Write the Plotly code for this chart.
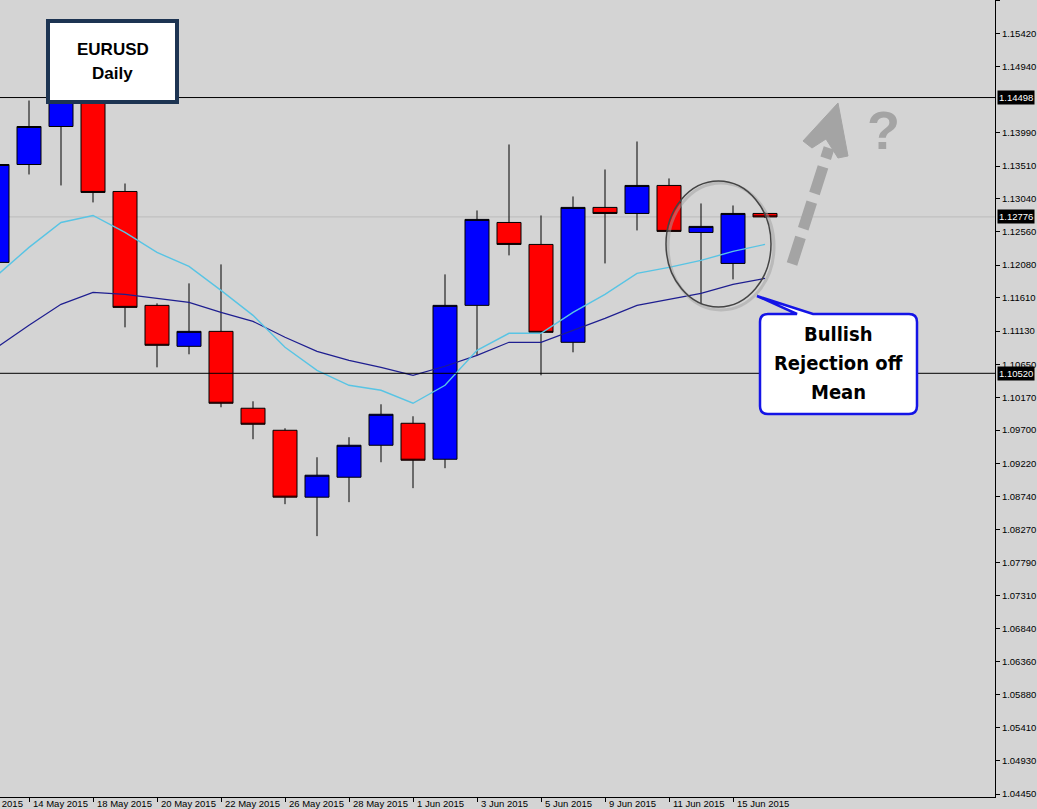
import plotly.graph_objects as go

# ---------------- data ----------------
dates = ["13 May", "14 May", "15 May", "18 May", "19 May", "20 May", "21 May", "22 May",
         "25 May", "26 May", "27 May", "28 May", "29 May", "1 Jun", "2 Jun", "3 Jun",
         "4 Jun", "5 Jun", "8 Jun", "9 Jun", "10 Jun", "11 Jun", "12 Jun", "15 Jun", "16 Jun"]
opens = [1.12120, 1.13532, 1.14080, 1.14512, 1.13143, 1.11500, 1.10909, 1.11125, 1.10016,
         1.09698, 1.08733, 1.09021, 1.09482, 1.09799, 1.09280, 1.11500, 1.12696, 1.12379,
         1.10967, 1.12913, 1.12826, 1.13230, 1.12552, 1.12105, 1.12826]
highs = [1.13619, 1.14455, 1.14671, 1.14671, 1.13258, 1.11529, 1.11817, 1.12091, 1.10116,
         1.09727, 1.09309, 1.09598, 1.10073, 1.09900, 1.11947, 1.12869, 1.13821, 1.12797,
         1.13071, 1.13460, 1.13864, 1.13331, 1.12970, 1.12941, 1.12840]
lows = [1.12033, 1.13388, 1.13230, 1.12985, 1.11183, 1.10606, 1.10794, 1.10030, 1.09569,
        1.08632, 1.08171, 1.08661, 1.09237, 1.08863, 1.09151, 1.10779, 1.12221, 1.10491,
        1.10823, 1.12105, 1.12581, 1.12567, 1.11515, 1.11875, 1.12760]
closes = [1.13532, 1.14080, 1.14527, 1.13129, 1.11471, 1.10924, 1.11125, 1.10088, 1.09785,
          1.08733, 1.09050, 1.09482, 1.09929, 1.09266, 1.11500, 1.12740, 1.12379, 1.11111,
          1.12913, 1.12826, 1.13230, 1.12567, 1.12639, 1.12826, 1.12776]
ma_fast = [1.11932, 1.12336, 1.12696, 1.12797, 1.12552, 1.12264, 1.12062, 1.11716, 1.11356,
           1.10895, 1.10563, 1.10347, 1.10275, 1.10088, 1.10347, 1.10852, 1.11097, 1.11097,
           1.11399, 1.11659, 1.11961, 1.12048, 1.12149, 1.12278, 1.12379]
ma_slow = [1.10895, 1.11212, 1.11515, 1.11687, 1.11659, 1.11601, 1.11543, 1.11399, 1.11269,
           1.11039, 1.10837, 1.10707, 1.10606, 1.10491, 1.10621, 1.10779, 1.10967, 1.10967,
           1.11140, 1.11313, 1.11500, 1.11587, 1.11673, 1.11803, 1.11889]

x_tick_idx = [1, 3, 5, 7, 9, 11, 13, 15, 17, 19, 21, 23]
x_tick_text = ["14 May 2015", "18 May 2015", "20 May 2015", "22 May 2015", "26 May 2015",
               "28 May 2015", "1 Jun 2015", "3 Jun 2015", "5 Jun 2015", "9 Jun 2015",
               "11 Jun 2015", "15 Jun 2015"]
cut_label = "12 May 2015"
y_ticks = [1.15900, 1.15420, 1.14940, 1.13990, 1.13510, 1.13040, 1.12560, 1.12080, 1.11610,
           1.11130, 1.10650, 1.10170, 1.09700, 1.09220, 1.08740, 1.08270, 1.07790, 1.07310,
           1.06840, 1.06360, 1.05880, 1.05410, 1.04930, 1.04450]
level_lines = [1.14498, 1.10520]
bid_price = 1.12776
title_lines = ["EURUSD", "Daily"]
callout_lines = ["Bullish", "Rejection off", "Mean"]

# ---------------- layout helpers ----------------
W, H = 1037, 809
ML, MR, MT, MB = 0, 42, 0, 12
PW, PH = W - ML - MR, H - MT - MB
BG = "#d4d4d4"
FONT = "Liberation Sans, Arial, sans-serif"


def px(x):
    return x / PW


def py(y):
    return 1 - y / PH


def path(points, close=True):
    s = ""
    for cmd, x, y in points:
        s += f"{cmd} {px(x):.5f},{py(y):.5f} "
    return s + ("Z" if close else "")


idx = list(range(len(dates)))

fig = go.Figure()
fig.add_trace(go.Candlestick(
    x=idx, open=opens, high=highs, low=lows, close=closes,
    increasing=dict(fillcolor="#0000ff", line=dict(color="black", width=1)),
    decreasing=dict(fillcolor="#ff0000", line=dict(color="black", width=1)),
    whiskerwidth=0, showlegend=False, hoverinfo="skip"))
fig.add_trace(go.Scatter(x=idx, y=ma_slow, mode="lines",
                         line=dict(color="#1e1e90", width=1.2), showlegend=False, hoverinfo="skip"))
fig.add_trace(go.Scatter(x=idx, y=ma_fast, mode="lines",
                         line=dict(color="#58c4e4", width=1.4), showlegend=False, hoverinfo="skip"))

shapes = []
shapes.append(dict(type="line", xref="paper", x0=0, x1=1, yref="y", y0=bid_price, y1=bid_price,
                   line=dict(color="#bcbcbc", width=1), layer="below"))
for lv in level_lines:
    shapes.append(dict(type="line", xref="paper", x0=0, x1=1, yref="y", y0=lv, y1=lv,
                       line=dict(color="black", width=1), layer="above"))
# title box
shapes.append(dict(type="rect", xref="paper", yref="paper", x0=px(48), x1=px(177), y0=py(21), y1=py(102),
                   fillcolor="white", line=dict(color="#1d3452", width=4), layer="above"))
# ellipse shadow + ellipse
shapes.append(dict(type="circle", xref="paper", yref="paper", x0=px(668), x1=px(774), y0=py(183), y1=py(310),
                   line=dict(color="rgba(160,160,160,0.5)", width=3), layer="above"))
shapes.append(dict(type="circle", xref="paper", yref="paper", x0=px(666), x1=px(771), y0=py(181), y1=py(307),
                   line=dict(color="#444444", width=1.5), layer="above"))
# dashed arrow shaft
shapes.append(dict(type="line", xref="paper", yref="paper", x0=px(792), y0=py(264), x1=px(829), y1=py(148),
                   line=dict(color="#a4a4a4", width=11, dash="28px,9px"), layer="above"))
# arrow head
shapes.append(dict(type="path", xref="paper", yref="paper",
                   path=path([("M", 838, 103), ("L", 803, 141), ("L", 812, 148), ("L", 826, 139),
                              ("L", 838, 158), ("L", 848, 156)]),
                   fillcolor="#a4a4a4", line=dict(color="#a4a4a4", width=1), layer="above"))
# callout box with pointer
r = 8
x0b, x1b, y0b, y1b = 760, 917, 314, 414
callout = path([
    ("M", x0b + r, y0b), ("L", 797, y0b), ("L", 757, 296), ("L", 813, y0b),
    ("L", x1b - r, y0b), ("Q", x1b, y0b), ("", x1b, y0b + r),
    ("L", x1b, y1b - r), ("Q", x1b, y1b), ("", x1b - r, y1b),
    ("L", x0b + r, y1b), ("Q", x0b, y1b), ("", x0b, y1b - r),
    ("L", x0b, y0b + r), ("Q", x0b, y0b), ("", x0b + r, y0b)])
shapes.append(dict(type="path", xref="paper", yref="paper", path=callout,
                   fillcolor="white", line=dict(color="#1414e6", width=2.5), layer="above"))

annotations = []
for t, yy in zip(title_lines, [50, 73]):
    annotations.append(dict(xref="paper", yref="paper", x=px(112.5), y=py(yy), xanchor="center",
                            yanchor="middle", text=f"<b>{t}</b>", showarrow=False,
                            font=dict(family=FONT, size=17, color="black")))
for t, yy in zip(callout_lines, [334, 363, 392]):
    annotations.append(dict(xref="paper", yref="paper", x=px(838), y=py(yy), xanchor="center",
                            yanchor="middle", text=f"<b>{t}</b>", showarrow=False,
                            font=dict(family="Liberation Sans Narrow, DejaVu Sans Condensed, Arial Narrow, sans-serif",
                                      size=20, color="black")))
annotations.append(dict(xref="paper", yref="paper", x=px(883), y=py(130), xanchor="center", yanchor="middle",
                        text="<b>?</b>", showarrow=False,
                        font=dict(family=FONT, size=54, color="#a4a4a4")))
# x labels (left-aligned next to tick, MT4 style)
for i, t in zip(x_tick_idx, x_tick_text):
    annotations.append(dict(xref="x", x=i, xanchor="left", xshift=2, yref="paper", y=py(803),
                            yanchor="middle", text=t, showarrow=False,
                            font=dict(family=FONT, size=9.5, color="black")))
annotations.append(dict(xref="paper", x=px(-34), xanchor="left", yref="paper", y=py(803), yanchor="middle",
                        text=cut_label, showarrow=False, font=dict(family=FONT, size=9.5, color="black")))
# highlighted price labels
for lv in level_lines + [bid_price]:
    annotations.append(dict(xref="paper", x=1, xanchor="left", xshift=2, yref="y", y=lv, yanchor="middle",
                            text=f"{lv:.5f}", showarrow=False, bgcolor="black", borderpad=1,
                            font=dict(family=FONT, size=9.5, color="white")))

fig.update_layout(
    width=W, height=H, margin=dict(l=ML, r=MR, t=MT, b=MB, pad=0),
    paper_bgcolor=BG, plot_bgcolor=BG, showlegend=False,
    boxgap=0.25, boxgroupgap=0,
    shapes=shapes, annotations=annotations,
    xaxis=dict(range=[3 / 32, 998 / 32], showgrid=False, zeroline=False, showline=True, linecolor="black",
               linewidth=1, ticks="outside", ticklen=4, tickcolor="black", tickvals=x_tick_idx,
               showticklabels=False, rangeslider=dict(visible=False), fixedrange=True),
    yaxis=dict(range=[1.04408, 1.15905], side="right", showgrid=False, zeroline=False, showline=True,
               linecolor="black", linewidth=1, ticks="outside", ticklen=4, tickcolor="black",
               tickvals=y_ticks, ticktext=[f"{v:.5f}" for v in y_ticks],
               tickfont=dict(family=FONT, size=9.5, color="black"),
               fixedrange=True),
)

fig.write_html("out.html", config={"displayModeBar": False},
               post_script="document.body.style.margin='0';document.body.style.background='%s';" % BG)
